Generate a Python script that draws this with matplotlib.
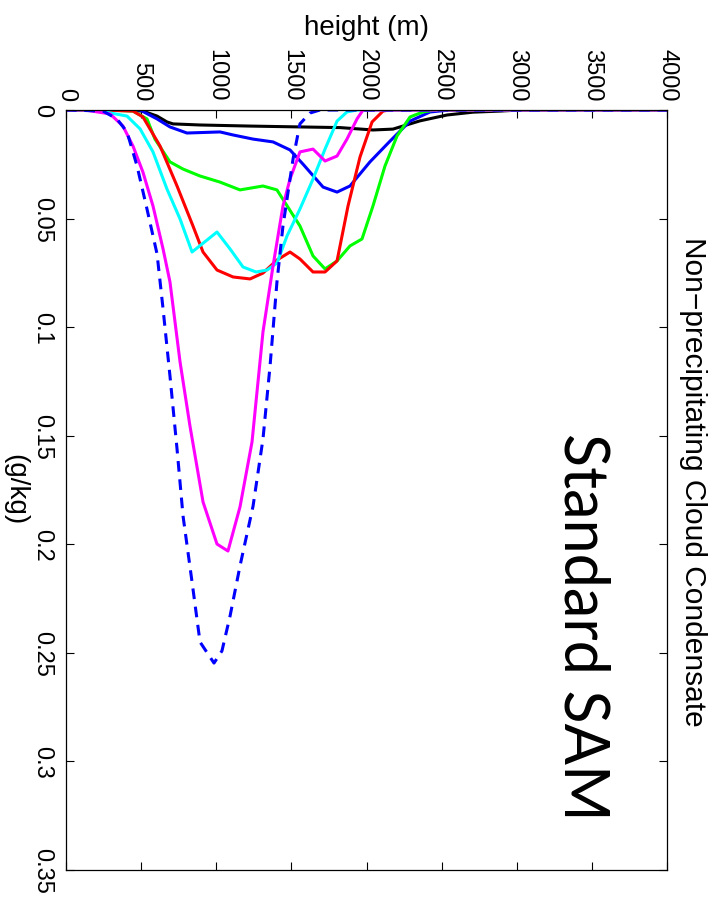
import matplotlib
matplotlib.use("Agg")
import matplotlib.pyplot as plt
from matplotlib.ticker import FixedLocator, FixedFormatter

plt.rcParams["font.family"] = ["Liberation Sans", "DejaVu Sans"]

# Height (m) / condensate (g/kg) profiles
h_black = [0, 360, 512, 606, 672, 712, 892, 1225, 1557, 1824, 2043, 2176, 2356, 2536, 2709, 2889, 3022, 4000]
q_black = [0, 0, 0.0005, 0.0028, 0.0055, 0.0064, 0.0069, 0.0074, 0.0078, 0.0081, 0.0092, 0.0088, 0.0050, 0.0023, 0.0010, 0.0005, 0, 0]

h_blue = [0, 493, 606, 692, 805, 1025, 1112, 1245, 1378, 1491, 1577, 1711, 1804, 1890, 2023, 2157, 2290, 2423, 2556, 4000]
q_blue = [0, 0, 0.0041, 0.0078, 0.0106, 0.0101, 0.0115, 0.0134, 0.0147, 0.0184, 0.0249, 0.0355, 0.0378, 0.0350, 0.0239, 0.0143, 0.0051, 0.0009, 0, 0]

h_green = [0, 260, 446, 539, 592, 692, 779, 892, 1025, 1158, 1311, 1404, 1557, 1644, 1724, 1804, 1890, 1970, 2043, 2123, 2203, 2290, 2376, 2456, 4000]
q_green = [0, 0, 0.0005, 0.0041, 0.0134, 0.0239, 0.0272, 0.0304, 0.0332, 0.0368, 0.0350, 0.0368, 0.0534, 0.0672, 0.0732, 0.0695, 0.0626, 0.0594, 0.0442, 0.0258, 0.0120, 0.0032, 0.0009, 0, 0]

h_red = [0, 226, 446, 512, 626, 739, 845, 912, 1005, 1112, 1225, 1311, 1404, 1491, 1557, 1644, 1724, 1804, 1877, 1957, 2037, 2110, 2150, 4000]
q_red = [0, 0, 0.0005, 0.0032, 0.0166, 0.0350, 0.0534, 0.0654, 0.0737, 0.0769, 0.0778, 0.0751, 0.0691, 0.0654, 0.0686, 0.0746, 0.0746, 0.0695, 0.0442, 0.0216, 0.0055, 0.0005, 0, 0]

h_cyan = [0, 193, 406, 493, 579, 672, 759, 839, 1005, 1092, 1178, 1265, 1338, 1404, 1471, 1557, 1644, 1724, 1804, 1870, 1937, 4000]
q_cyan = [0, 0, 0.0028, 0.0087, 0.0193, 0.0364, 0.0502, 0.0654, 0.0562, 0.0640, 0.0723, 0.0746, 0.0737, 0.0705, 0.0580, 0.0456, 0.0318, 0.0180, 0.0051, 0.0009, 0, 0]

h_magenta = [0, 126, 293, 379, 446, 512, 579, 646, 692, 759, 825, 912, 1005, 1078, 1158, 1238, 1311, 1378, 1444, 1491, 1557, 1644, 1724, 1804, 1870, 1937, 1977, 4000]
q_magenta = [0, 0, 0.0018, 0.0074, 0.0166, 0.0286, 0.0442, 0.0640, 0.0792, 0.1160, 0.1455, 0.1805, 0.1999, 0.2031, 0.1828, 0.1529, 0.1022, 0.0718, 0.0442, 0.0318, 0.0193, 0.0180, 0.0235, 0.0212, 0.0134, 0.0041, 0, 0]

h_dashed = [0, 27, 246, 339, 406, 473, 539, 606, 646, 692, 739, 779, 839, 892, 985, 1038, 1092, 1158, 1245, 1311, 1358, 1404, 1444, 1511, 1557, 1624, 1690, 4000]
q_dashed = [0, 0, 0.0005, 0.0041, 0.0101, 0.0258, 0.0456, 0.0663, 0.0916, 0.1225, 0.1561, 0.1870, 0.2174, 0.2450, 0.2547, 0.2491, 0.2330, 0.2100, 0.1824, 0.1515, 0.1179, 0.0792, 0.0534, 0.0226, 0.0064, 0.0014, 0, 0]

height_ticks = [0, 500, 1000, 1500, 2000, 2500, 3000, 3500, 4000]
height_labels = ["0", "500", "1000", "1500", "2000", "2500", "3000", "3500", "4000"]
q_ticks = [0, 0.05, 0.1, 0.15, 0.2, 0.25, 0.3, 0.35]
q_labels = ["0", "0.05", "0.1", "0.15", "0.2", "0.25", "0.3", "0.35"]

fig = plt.figure(figsize=(7.23, 9.03), dpi=100)
ax = fig.add_axes([66 / 723, 32 / 903, 601 / 723, 760 / 903])

lw = 2.2
ax.plot(h_black, q_black, color="black", lw=lw)
ax.plot(h_blue, q_blue, color="blue", lw=lw)
ax.plot(h_green, q_green, color="#00ff00", lw=lw)
ax.plot(h_red, q_red, color="red", lw=lw)
ax.plot(h_cyan, q_cyan, color="cyan", lw=lw)
ax.plot(h_magenta, q_magenta, color="magenta", lw=lw)
ax.plot(h_dashed, q_dashed, color="blue", lw=lw, linestyle=(0, (3.5, 2.5)))

ax.set_xlim(0, 4000)
ax.set_ylim(0.35, 0)

ax.xaxis.set_major_locator(FixedLocator(height_ticks))
ax.xaxis.set_major_formatter(FixedFormatter(height_labels))
ax.yaxis.set_major_locator(FixedLocator(q_ticks))
ax.yaxis.set_major_formatter(FixedFormatter(q_labels))

ax.tick_params(axis="x", which="both", top=True, bottom=True, labeltop=True,
               labelbottom=False, direction="in", length=6, width=0.8,
               labelsize=17, pad=7, labelrotation=-90)
ax.tick_params(axis="y", which="both", left=True, right=True, labelleft=True,
               labelright=False, direction="in", length=6, width=0.8,
               labelsize=17, pad=9, labelrotation=-90)
for lab in ax.get_xticklabels():
    lab.set_ha("center")
    lab.set_va("bottom")
for lab in ax.get_yticklabels():
    lab.set_ha("right")
    lab.set_va("center")

for sp in ax.spines.values():
    sp.set_linewidth(0.9)

fig.text(366 / 723, 1 - 28 / 903, "height (m)", ha="center", va="center", fontsize=20)
fig.text(15 / 723, 1 - 490 / 903, "(g/kg)", ha="center", va="center",
         fontsize=20, rotation=-90)
fig.text(693 / 723, 1 - 482 / 903, "Non\u2212precipitating Cloud Condensate",
         ha="center", va="center", fontsize=21.5, rotation=-90)
fig.text(582 / 723, 1 - 627 / 903, "Standard SAM", ha="center", va="center",
         fontsize=44, rotation=-90, family=["Lato", "DejaVu Sans"])

fig.savefig("out.png", dpi=100)
